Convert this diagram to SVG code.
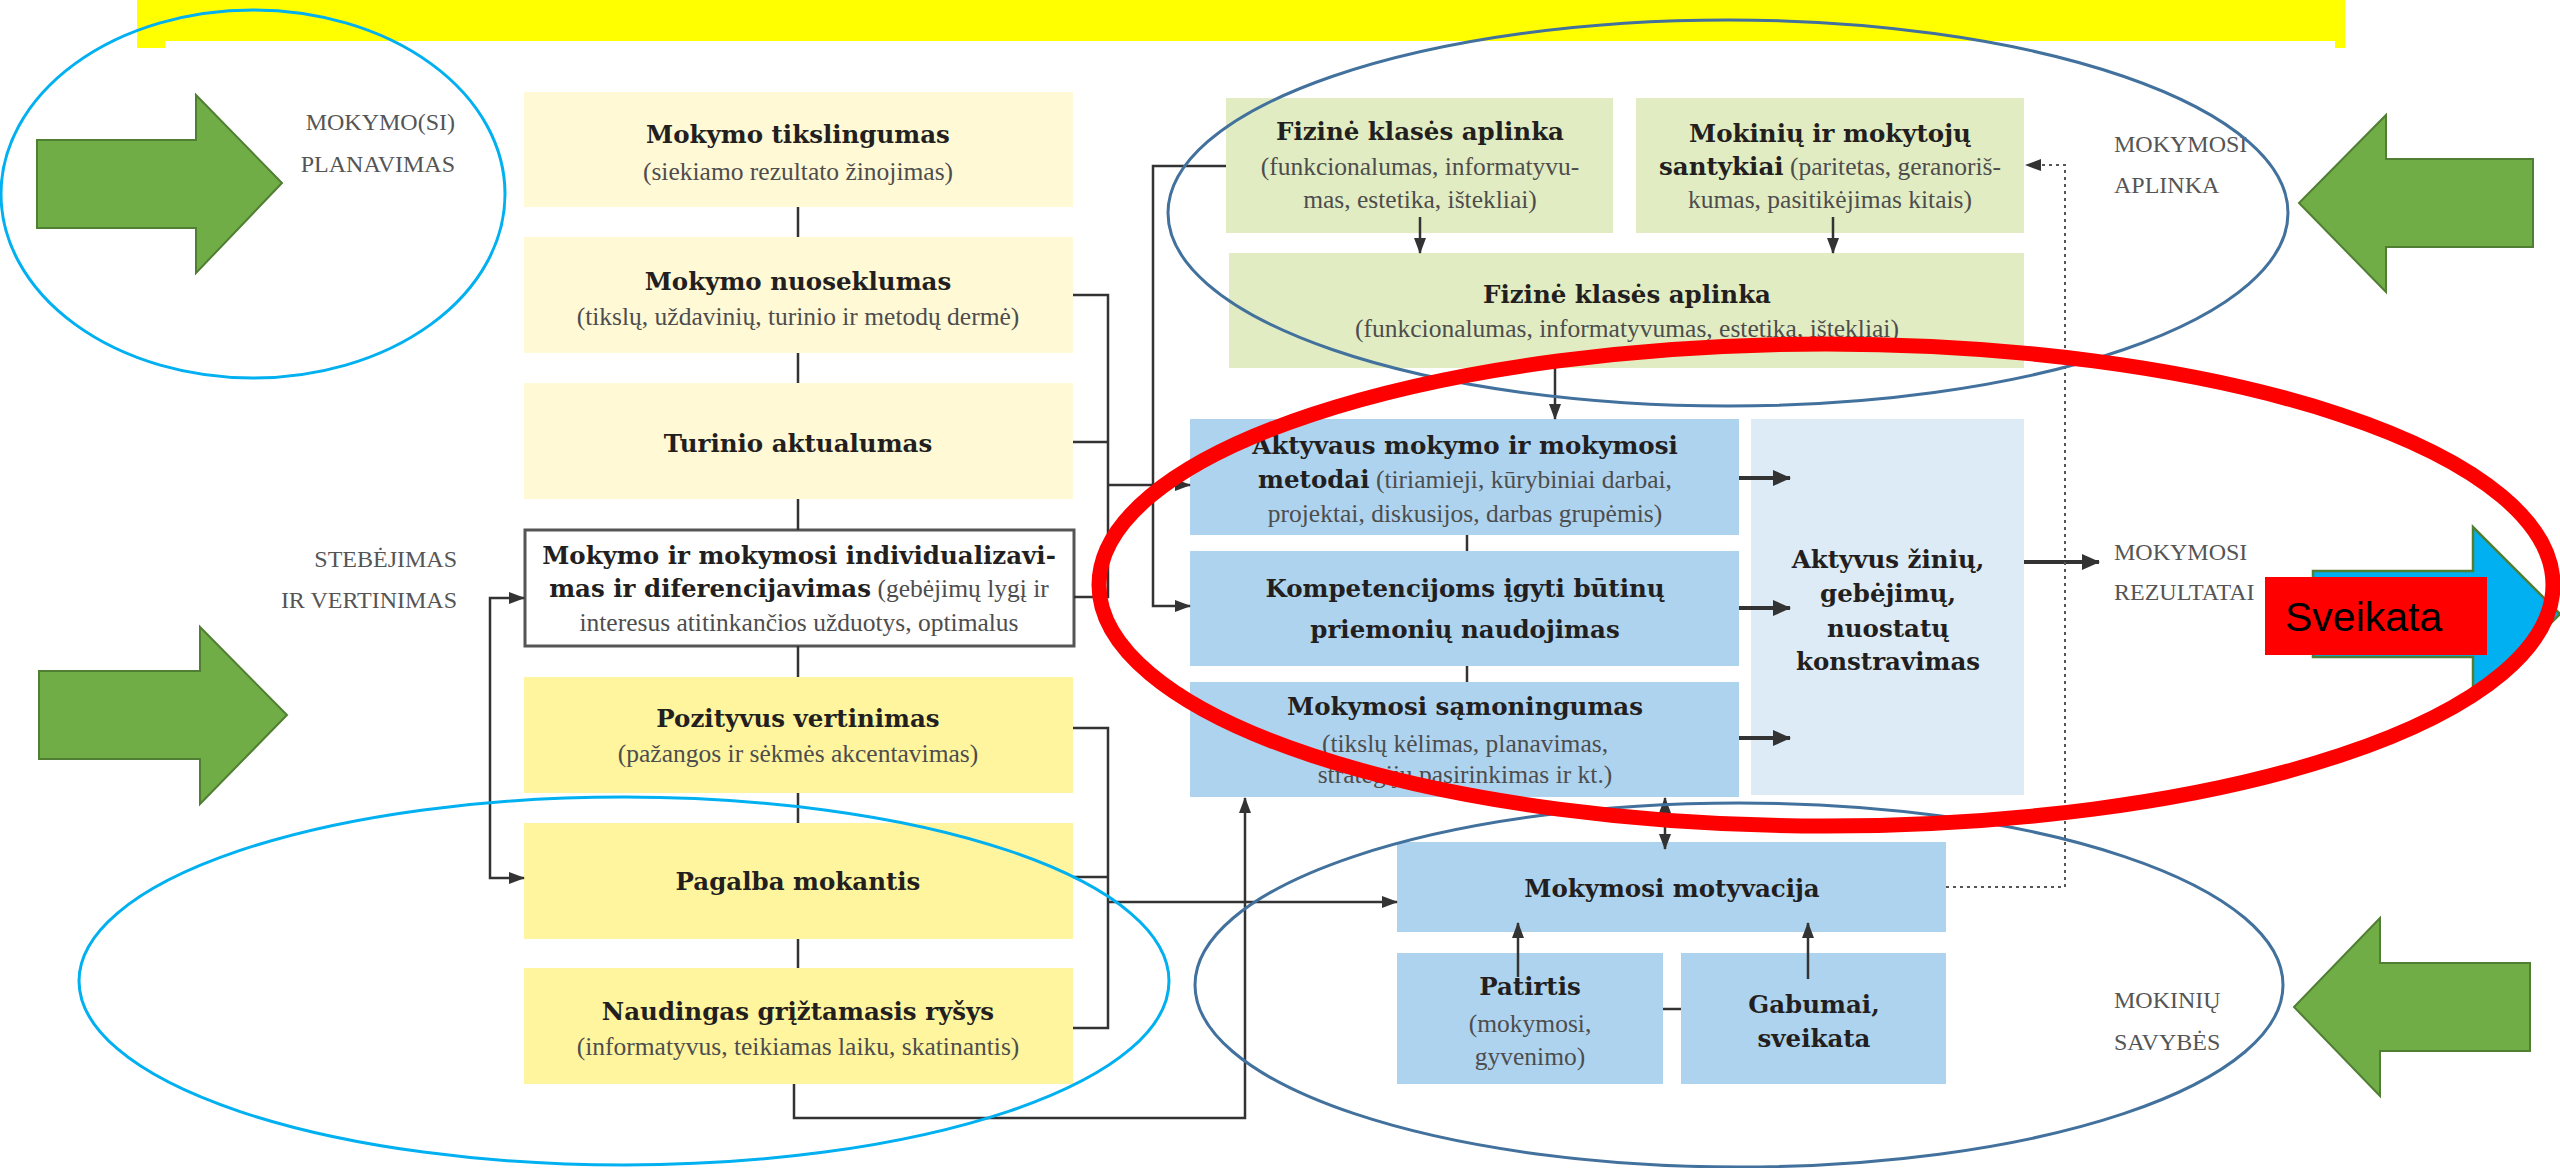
<svg xmlns="http://www.w3.org/2000/svg" width="2560" height="1168" viewBox="0 0 2560 1168">
<defs>
<style>
.t{font-family:"DejaVu Serif","Liberation Serif",serif;font-weight:bold;font-size:24.5px;fill:#231f20;text-anchor:middle}
.s{font-family:"Liberation Serif","DejaVu Serif",serif;font-weight:normal;font-size:25.5px;fill:#4d4d4d}
.sc{font-family:"Liberation Serif","DejaVu Serif",serif;font-size:25.5px;fill:#4d4d4d;text-anchor:middle}
.lab{font-family:"Liberation Serif","DejaVu Serif",serif;font-size:24px;fill:#555}
.cream{fill:#fff9d6}
.yel{fill:#fff59e}
.grn{fill:#e2ecc2}
.blu{fill:#aed3ef}
.pale{fill:#ddebf7}
.ln{fill:none;stroke:#333;stroke-width:2.5}
.lnb{fill:none;stroke:#333;stroke-width:4}
.dot{fill:none;stroke:#555;stroke-width:2;stroke-dasharray:3 4}
.ell{fill:none;stroke-width:3}
.garr{fill:#70ad47;stroke:#507e32;stroke-width:2}
</style>
<marker id="ah" viewBox="0 0 16 12" refX="15" refY="6" markerWidth="16" markerHeight="12" markerUnits="userSpaceOnUse" orient="auto-start-reverse"><path d="M0,0 L16,6 L0,12 z" fill="#333"/></marker>
<marker id="ahb" viewBox="0 0 18 16" refX="17" refY="8" markerWidth="18" markerHeight="16" markerUnits="userSpaceOnUse" orient="auto"><path d="M0,0 L18,8 L0,16 z" fill="#333"/></marker>
</defs>
<rect width="2560" height="1168" fill="#fff"/>
<path id="topbar" d="M137,0 H2345 V48 H2335 V41 H165 V48 H137 Z" fill="#ffff00"/>

<g id="n-tikslingumas"><rect class="cream" x="524" y="92" width="549" height="115"/><text class="t" x="798" y="143">Mokymo tikslingumas</text><text class="sc" x="798" y="180">(siekiamo rezultato žinojimas)</text></g>
<g id="n-nuoseklumas"><rect class="cream" x="524" y="237" width="549" height="116"/><text class="t" x="798" y="290">Mokymo nuoseklumas</text><text class="sc" x="798" y="325">(tikslų, uždavinių, turinio ir metodų dermė)</text></g>
<g id="n-turinio"><rect class="cream" x="524" y="383" width="549" height="116"/><text class="t" x="798" y="452">Turinio aktualumas</text></g>
<g id="n-individualizavimas"><rect x="525" y="530" width="549" height="116" fill="#fff" stroke="#555" stroke-width="3"/><text class="t" x="799" y="564">Mokymo ir mokymosi individualizavi-</text><text class="t" x="799" y="597">mas ir diferencijavimas<tspan class="s"> (gebėjimų lygį ir</tspan></text><text class="sc" x="799" y="631">interesus atitinkančios užduotys, optimalus</text></g>
<g id="n-pozityvus"><rect class="yel" x="524" y="677" width="549" height="116"/><text class="t" x="798" y="727">Pozityvus vertinimas</text><text class="sc" x="798" y="762">(pažangos ir sėkmės akcentavimas)</text></g>
<g id="n-pagalba"><rect class="yel" x="524" y="823" width="549" height="116"/><text class="t" x="798" y="890">Pagalba mokantis</text></g>
<g id="n-naudingas"><rect class="yel" x="524" y="968" width="549" height="116"/><text class="t" x="798" y="1020">Naudingas grįžtamasis ryšys</text><text class="sc" x="798" y="1055">(informatyvus, teikiamas laiku, skatinantis)</text></g>

<g id="n-fizine1"><rect class="grn" x="1226" y="98" width="387" height="135"/><text class="t" x="1420" y="140">Fizinė klasės aplinka</text><text class="sc" x="1420" y="175">(funkcionalumas, informatyvu-</text><text class="sc" x="1420" y="208">mas, estetika, ištekliai)</text></g>
<g id="n-santykiai"><rect class="grn" x="1636" y="98" width="388" height="135"/><text class="t" x="1830" y="142">Mokinių ir mokytojų</text><text class="t" x="1830" y="175">santykiai<tspan class="s"> (paritetas, geranoriš-</tspan></text><text class="sc" x="1830" y="208">kumas, pasitikėjimas kitais)</text></g>
<g id="n-fizine2"><rect class="grn" x="1229" y="253" width="795" height="115"/><text class="t" x="1627" y="303">Fizinė klasės aplinka</text><text class="sc" x="1627" y="337">(funkcionalumas, informatyvumas, estetika, ištekliai)</text></g>

<g id="n-aktyvaus"><rect class="blu" x="1190" y="419" width="549" height="116"/><text class="t" x="1465" y="454">Aktyvaus mokymo ir mokymosi</text><text class="t" x="1465" y="488">metodai<tspan class="s"> (tiriamieji, kūrybiniai darbai,</tspan></text><text class="sc" x="1465" y="522">projektai, diskusijos, darbas grupėmis)</text></g>
<g id="n-kompetencijos"><rect class="blu" x="1190" y="551" width="549" height="115"/><text class="t" x="1465" y="597">Kompetencijoms įgyti būtinų</text><text class="t" x="1465" y="638">priemonių naudojimas</text></g>
<g id="n-samoningumas"><rect class="blu" x="1190" y="682" width="549" height="115"/><text class="t" x="1465" y="715">Mokymosi sąmoningumas</text><text class="sc" x="1465" y="752">(tikslų kėlimas, planavimas,</text><text class="sc" x="1465" y="783">strategijų pasirinkimas ir kt.)</text></g>
<g id="n-konstravimas"><rect class="pale" x="1751" y="419" width="273" height="376"/><text class="t" x="1888" y="568">Aktyvus žinių,</text><text class="t" x="1888" y="602">gebėjimų,</text><text class="t" x="1888" y="637">nuostatų</text><text class="t" x="1888" y="670">konstravimas</text></g>

<g id="n-motyvacija"><rect class="blu" x="1397" y="842" width="549" height="90"/><text class="t" x="1672" y="897">Mokymosi motyvacija</text></g>
<g id="n-patirtis"><rect class="blu" x="1397" y="953" width="266" height="131"/><text class="t" x="1530" y="995">Patirtis</text><text class="sc" x="1530" y="1032">(mokymosi,</text><text class="sc" x="1530" y="1065">gyvenimo)</text></g>
<g id="n-gabumai"><rect class="blu" x="1681" y="953" width="265" height="131"/><text class="t" x="1814" y="1013">Gabumai,</text><text class="t" x="1814" y="1047">sveikata</text></g>

<g id="labels">
<text class="lab" x="455" y="130" text-anchor="end">MOKYMO(SI)</text>
<text class="lab" x="455" y="172" text-anchor="end">PLANAVIMAS</text>
<text class="lab" x="457" y="567" text-anchor="end">STEBĖJIMAS</text>
<text class="lab" x="457" y="608" text-anchor="end">IR VERTINIMAS</text>
<text class="lab" x="2114" y="152">MOKYMOSI</text>
<text class="lab" x="2114" y="193">APLINKA</text>
<text class="lab" x="2114" y="560">MOKYMOSI</text>
<text class="lab" x="2114" y="600">REZULTATAI</text>
<text class="lab" x="2114" y="1008">MOKINIŲ</text>
<text class="lab" x="2114" y="1050">SAVYBĖS</text>
</g>

<g id="connectors">
<path class="ln" d="M798,207 V237 M798,353 V383 M798,499 V530 M798,646 V677 M798,793 V823 M798,939 V968"/>
<path class="ln" d="M1467,535 V551 M1467,666 V682 M1663,1009 H1681"/>
<path class="ln" d="M1073,295 H1108 V597 H1074 M1073,442 H1108"/>
<path class="ln" d="M1108,485 H1190" marker-end="url(#ah)"/>
<path class="ln" d="M1226,166 H1153 V606 H1190" marker-end="url(#ah)"/>
<path class="ln" d="M1073,728 H1108 V1028 H1073 M1073,877 H1108"/>
<path class="ln" d="M1108,902 H1397" marker-end="url(#ah)"/>
<path class="ln" d="M524,598 H490 V878 H524" marker-start="url(#ah)" marker-end="url(#ah)"/>
<path class="ln" d="M794,1084 V1118 H1245 V798" marker-end="url(#ah)"/>
<path class="ln" d="M1420,217 V253" marker-end="url(#ah)"/>
<path class="ln" d="M1833,217 V253" marker-end="url(#ah)"/>
<path class="ln" d="M1555,368 V419" marker-end="url(#ah)"/>
<path class="ln" d="M1665,798 V849" marker-start="url(#ah)" marker-end="url(#ah)"/>
<path class="ln" d="M1518,977 V923" marker-end="url(#ah)"/>
<path class="ln" d="M1808,979 V923" marker-end="url(#ah)"/>
<path class="lnb" d="M1739,478 H1790" marker-end="url(#ahb)"/>
<path class="lnb" d="M1739,608 H1790" marker-end="url(#ahb)"/>
<path class="lnb" d="M1739,738 H1790" marker-end="url(#ahb)"/>
<path class="lnb" d="M2024,562 H2099" marker-end="url(#ahb)"/>
<path class="dot" d="M1946,887 H2065 V165 H2026" marker-end="url(#ah)"/>
</g>

<g id="ellipses">
<ellipse class="ell" cx="253" cy="194" rx="252" ry="184" stroke="#00b0f0"/>
<ellipse class="ell" cx="1728" cy="213" rx="560" ry="193" stroke="#41719c"/>
<ellipse class="ell" cx="624" cy="981" rx="545" ry="184" stroke="#00b0f0"/>
<ellipse class="ell" cx="1739" cy="985" rx="544" ry="182" stroke="#41719c"/>
</g>

<g id="green-arrows">
<polygon class="garr" points="37,140 196,140 196,95 282,183 196,273 196,228 37,228"/>
<polygon class="garr" points="39,671 200,671 200,627 287,715 200,804 200,759 39,759"/>
<polygon class="garr" points="2533,159 2386,159 2386,115 2299,203 2386,292 2386,247 2533,247"/>
<polygon class="garr" points="2530,963 2380,963 2380,918 2294,1007 2380,1096 2380,1051 2530,1051"/>
</g>

<g id="sveikata">
<polygon points="2313,571 2473,571 2473,527 2560,614 2473,701 2473,657 2313,657" fill="#00b0f0" stroke="#507e32" stroke-width="2.5"/>
<rect x="2265" y="577" width="222" height="78" fill="#ff0000"/>
<text x="2285" y="631" font-family="Liberation Sans, Arial, sans-serif" font-size="41" fill="#000">Sveikata</text>
</g>

<ellipse id="red-ring" cx="1826" cy="585" rx="727" ry="241" fill="none" stroke="#ff0000" stroke-width="15"/>
</svg>
